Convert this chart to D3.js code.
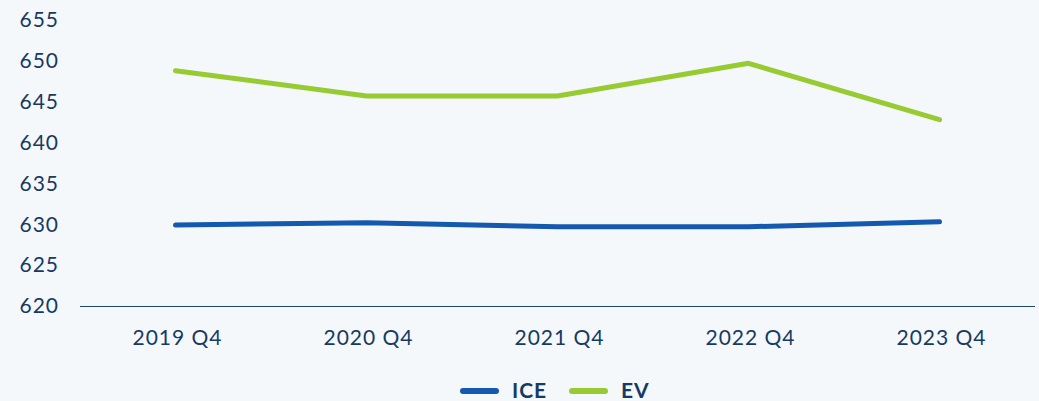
<!DOCTYPE html>
<html>
<head>
<meta charset="utf-8">
<script src="https://cdn.jsdelivr.net/npm/d3@7"></script>
<style>
  body { margin: 0; background: #f4f8fb; }
  svg { display: block; font-family: Lato, "Open Sans", sans-serif; letter-spacing: 1px; }
</style>
</head>
<body>
<svg id="chart"></svg>
<script>
// Chart data
const quarters = ['2019 Q4', '2020 Q4', '2021 Q4', '2022 Q4', '2023 Q4'];
const iceValues = [629.9, 630.2, 629.7, 629.7, 630.3];
const evValues = [648.8, 645.7, 645.7, 649.7, 642.8];
const yTicks = [620, 625, 630, 635, 640, 645, 650, 655];

const W = 1039, H = 401;
const margin = { top: 20, right: 4, bottom: 95, left: 80 };
const width = W - margin.left - margin.right;
const height = H - margin.top - margin.bottom;
const textColor = '#173a63';

const svg = d3.select('#chart').attr('width', W).attr('height', H)
    .append('g')
    .attr('transform', `translate(${margin.left},${margin.top})`);

const x = d3.scaleBand().domain(quarters).range([0, width]);
const y = d3.scaleLinear().domain([620, 655]).range([height, 0]);

// Y labels
svg.append('g')
    .selectAll('text')
    .data(yTicks)
    .join('text')
    .attr('x', -21)
    .attr('y', d => y(d))
    .attr('dy', '0.35em')
    .attr('text-anchor', 'end')
    .attr('fill', textColor)
    .style('font-size', '21px')
    .text(d => d);

// X axis line + labels
svg.append('line')
    .attr('x1', 0).attr('x2', width)
    .attr('y1', y(620) + 0.5).attr('y2', y(620) + 0.5)
    .attr('stroke', '#1f4470')
    .attr('stroke-width', 1);

svg.append('g')
    .selectAll('text')
    .data(quarters)
    .join('text')
    .attr('x', d => x(d) + x.bandwidth() / 2 + 2)
    .attr('y', height + 39)
    .attr('text-anchor', 'middle')
    .attr('fill', textColor)
    .style('font-size', '21px')
    .text(d => d);

const series = [
    { name: 'ICE', values: iceValues, color: '#1458b0' },
    { name: 'EV', values: evValues, color: '#98ca31' }
];

const line = d3.line()
    .x((d, i) => x(quarters[i]) + x.bandwidth() / 2)
    .y(d => y(d));

series.forEach(s => {
    svg.append('path')
        .datum(s.values)
        .attr('fill', 'none')
        .attr('stroke', s.color)
        .attr('stroke-width', 5)
        .attr('stroke-linecap', 'round')
        .attr('stroke-linejoin', 'round')
        .attr('d', line);
});

// Legend
const legend = d3.select('#chart').append('g')
    .attr('transform', 'translate(0,391)');
const legendX = [463, 572];
series.forEach((s, i) => {
    legend.append('line')
        .attr('x1', legendX[i]).attr('x2', legendX[i] + 33)
        .attr('y1', 0).attr('y2', 0)
        .attr('stroke', s.color)
        .attr('stroke-width', 6)
        .attr('stroke-linecap', 'round');
    legend.append('text')
        .attr('x', legendX[i] + 49)
        .attr('y', 0)
        .attr('dy', '0.35em')
        .attr('fill', textColor)
        .style('font-size', '21px')
        .style('font-weight', 'bold')
        .text(s.name);
});
</script>
</body>
</html>
